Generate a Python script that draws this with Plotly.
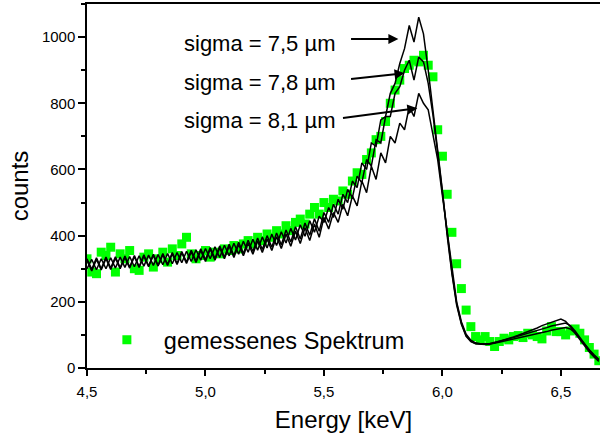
import plotly.graph_objects as go

energy = [
    4.50, 4.52, 4.54, 4.56, 4.58, 4.60, 4.62, 4.64, 4.66, 4.68,
    4.70, 4.72, 4.74, 4.76, 4.78, 4.80, 4.82, 4.84, 4.86, 4.88,
    4.90, 4.92, 4.94, 4.96, 4.98, 5.00, 5.02, 5.04, 5.06, 5.08,
    5.10, 5.12, 5.14, 5.16, 5.18, 5.20, 5.22, 5.24, 5.26, 5.28,
    5.30, 5.32, 5.34, 5.36, 5.38, 5.40, 5.42, 5.44, 5.46, 5.48,
    5.50, 5.52, 5.54, 5.56, 5.58, 5.60, 5.62, 5.64, 5.66, 5.68,
    5.70, 5.72, 5.74, 5.76, 5.78, 5.80, 5.82, 5.84, 5.86, 5.88,
    5.90, 5.92, 5.94, 5.96, 5.98, 6.00, 6.02, 6.04, 6.06, 6.08,
    6.10, 6.12, 6.14, 6.16, 6.18, 6.20, 6.22, 6.24, 6.26, 6.28,
    6.30, 6.32, 6.34, 6.36, 6.38, 6.40, 6.42, 6.44, 6.46, 6.48,
    6.50, 6.52, 6.54, 6.56, 6.58, 6.60, 6.62, 6.64, 6.66,
]

measured = [
    330, 290, 285, 350, 340, 365, 290, 345, 330, 355,
    300, 295, 335, 345, 305, 330, 350, 320, 360, 340,
    375, 395, 345, 330, 340, 355, 335, 350, 345, 360,
    355, 370, 360, 375, 385, 375, 395, 385, 405, 395,
    415, 405, 430, 415, 440, 450, 435, 465, 485, 465,
    500, 485, 510, 505, 535, 525, 565, 590, 585, 630,
    650, 690, 700, 745, 800, 840, 870, 905, 915, 930,
    925, 945, 915, 880, 720, 640, 525, 410, 315, 240,
    175, 125, 95, 85, 95, 80, 65, 80, 90, 85,
    95, 98, 92, 105, 100, 95, 88, 112, 125, 110,
    110, 100, 112, 118, 105, 85, 62, 42, 22,
]

sim_7_5 = [
    330, 298, 333, 300, 335, 302, 336, 303, 338, 305,
    340, 306, 342, 308, 344, 310, 346, 313, 349, 316,
    352, 320, 356, 323, 360, 327, 364, 331, 369, 335,
    374, 340, 380, 346, 386, 352, 393, 358, 400, 365,
    408, 372, 417, 381, 427, 390, 438, 401, 451, 413,
    470, 440, 495, 465, 525, 500, 565, 545, 620, 600,
    680, 670, 750, 760, 830, 860, 920, 965, 1035, 985,
    1060, 1010, 900, 780, 660, 535, 400, 285, 190, 132,
    96, 80, 73, 71, 71, 72, 76, 80, 85, 89,
    94, 99, 104, 109, 114, 121, 128, 133, 140, 143,
    148, 141, 125, 105, 85, 65, 48, 33, 20,
]

sim_7_8 = [
    300, 328, 297, 330, 300, 333, 302, 335, 304, 337,
    306, 339, 308, 341, 310, 343, 312, 346, 315, 349,
    318, 353, 322, 357, 326, 361, 330, 366, 334, 371,
    339, 377, 344, 383, 350, 389, 356, 396, 363, 404,
    370, 412, 378, 422, 387, 433, 398, 445, 410, 459,
    440, 485, 455, 510, 480, 540, 515, 580, 560, 630,
    610, 690, 680, 760, 760, 830, 850, 900, 930, 870,
    940, 925, 860, 765, 650, 530, 405, 290, 195, 135,
    98, 81, 74, 72, 72, 74, 77, 80, 84, 88,
    92, 96, 100, 104, 108, 113, 118, 122, 127, 130,
    133, 136, 128, 112, 92, 72, 53, 37, 24,
]

sim_8_1 = [
    325, 293, 328, 296, 330, 298, 332, 300, 334, 302,
    336, 304, 338, 306, 340, 308, 342, 310, 345, 313,
    348, 316, 351, 319, 355, 322, 359, 326, 363, 330,
    368, 334, 373, 339, 378, 344, 384, 349, 390, 355,
    397, 361, 405, 368, 414, 376, 424, 385, 435, 395,
    455, 420, 470, 440, 495, 460, 520, 490, 565, 530,
    610, 570, 650, 620, 700, 680, 740, 720, 790, 760,
    830, 800, 780, 710, 630, 520, 410, 295, 200, 140,
    102, 84, 76, 73, 72, 73, 75, 78, 81, 84,
    87, 90, 93, 96, 99, 102, 106, 110, 114, 117,
    120, 122, 118, 106, 90, 72, 55, 40, 26,
]

labels = ["sigma = 7,5 µm", "sigma = 7,8 µm", "sigma = 8,1 µm"]
# (text right end, text y, arrow tail x, tail y, tip x, tip y) in data units
label_pos = [
    (5.557, 982, 5.608, 994, 5.814, 994),
    (5.557, 864, 5.608, 873, 5.840, 891),
    (5.557, 749, 5.574, 755, 5.894, 785),
]

FONT = "Arial, Liberation Sans, Helvetica, sans-serif"

fig = go.Figure()
fig.add_trace(go.Scatter(
    x=energy, y=measured, mode="markers", name="gemessenes Spektrum",
    marker=dict(symbol="square", size=9, color="#00ff00", line=dict(width=0)),
))
for s in (sim_7_5, sim_7_8, sim_8_1):
    fig.add_trace(go.Scatter(
        x=energy, y=s, mode="lines", showlegend=False,
        line=dict(color="black", width=1.5),
    ))

for lab, (tx, ty, ax_, ay_, hx, hy) in zip(labels, label_pos):
    fig.add_annotation(x=tx, y=ty, xref="x", yref="y", text=lab, showarrow=False,
                       xanchor="right", yanchor="middle",
                       font=dict(family=FONT, size=22, color="black"))
    fig.add_annotation(x=hx, y=hy, ax=ax_, ay=ay_, xref="x", yref="y",
                       axref="x", ayref="y", text="", showarrow=True,
                       arrowhead=2, arrowsize=1, arrowwidth=2, arrowcolor="black")

fig.update_layout(
    width=600, height=439,
    margin=dict(l=87, r=0, t=4, b=71, autoexpand=False),
    paper_bgcolor="white", plot_bgcolor="white",
    separators=",.",
    font=dict(family=FONT, color="black"),
    showlegend=True,
    legend=dict(x=0.0056, y=0.077, xanchor="left", yanchor="middle",
                bgcolor="rgba(0,0,0,0)", itemwidth=64,
                font=dict(family=FONT, size=23.5, color="black")),
)
fig.update_xaxes(
    range=[4.5, 6.665], tickvals=[4.5, 5.0, 5.5, 6.0, 6.5], tickformat=".1f",
    automargin=False, ticklabelstandoff=3,
    showgrid=False, zeroline=False, showline=True, linecolor="black", linewidth=1.5,
    mirror=True, ticks="outside", ticklen=6, tickwidth=1.5, tickcolor="black",
    minor=dict(ticks="outside", ticklen=4, tickwidth=1.5, tickcolor="black", dtick=0.25),
    tickfont=dict(family=FONT, size=15, color="black"),
    title=dict(text="Energy [keV]", font=dict(family=FONT, size=24, color="black"), standoff=12),
)
fig.update_yaxes(
    range=[0, 1100], tickvals=[0, 200, 400, 600, 800, 1000],
    automargin=False,
    showgrid=False, zeroline=False, showline=True, linecolor="black", linewidth=1.5,
    mirror=False, ticks="outside", ticklen=7, tickwidth=1.5, tickcolor="black",
    minor=dict(ticks="outside", ticklen=4, tickwidth=1.5, tickcolor="black", dtick=100),
    tickfont=dict(family=FONT, size=15, color="black"),
    title=dict(text="counts", font=dict(family=FONT, size=24, color="black"), standoff=6),
)

fig.write_html(
    "out.html",
    config={"displayModeBar": False},
    post_script="document.body.style.margin='0';document.body.style.padding='0';"
                "document.body.style.overflow='hidden';",
)
